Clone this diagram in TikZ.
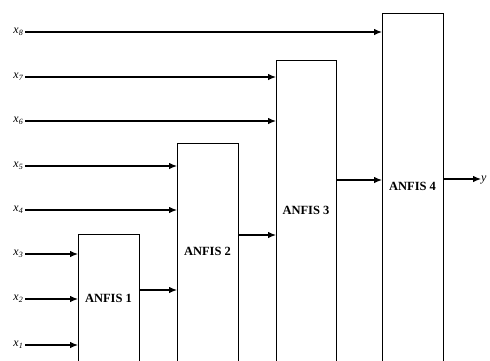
\documentclass[tikz,border=0pt]{standalone}
\usepackage{fontspec}
\setmainfont{Liberation Serif}
\usetikzlibrary{arrows.meta}
\begin{document}
\begin{tikzpicture}[x=1pt,y=-1pt,
  blk/.style={draw, line width=0.9pt, anchor=north west, inner sep=0pt, minimum width=61pt},
  arr/.style={-{Latex[length=8pt,width=6.5pt]}, line width=1.1pt},
  inlab/.style={anchor=base east, inner sep=0pt, font=\fontsize{12}{13}\selectfont\itshape},
  blab/.style={font=\fontsize{12.5}{14}\selectfont\bfseries, inner sep=0pt}]
\useasboundingbox (0,0) rectangle (490,360);
\clip (0,0) rectangle (490,360);
% blocks
\node[blk, minimum height=150pt] (a1) at (78,234) {};
\node[blk, minimum height=240pt] (a2) at (177,143) {};
\node[blk, minimum height=320pt, minimum width=60pt] (a3) at (276,60) {};
\node[blk, minimum height=370pt] (a4) at (382,13) {};
\node[blab] (l1) at (108.5,298) {ANFIS 1};
\node[blab] (l2) at (207.5,251) {ANFIS 2};
\node[blab] (l3) at (306,210) {ANFIS 3};
\node[blab] (l4) at (412.5,186) {ANFIS 4};
% input labels and start points
\foreach \i/\yy in {8/32,7/77,6/121,5/166,4/210,3/254,2/299,1/345}{
  \node[inlab] (x\i) at (23.5,\yy+1.5) {x\textsubscript{\i}};
  \coordinate (s\i) at (25,\yy);
}
% inputs
\draw[arr] (s8) -- (s8 -| a4.west);
\draw[arr] (s7) -- (s7 -| a3.west);
\draw[arr] (s6) -- (s6 -| a3.west);
\draw[arr] (s5) -- (s5 -| a2.west);
\draw[arr] (s4) -- (s4 -| a2.west);
\draw[arr] (s3) -- (s3 -| a1.west);
\draw[arr] (s2) -- (s2 -| a1.west);
\draw[arr] (s1) -- (s1 -| a1.west);
% inter-block connections
\coordinate (o1) at (139,290);
\coordinate (o2) at (238,235);
\coordinate (o3) at (336,180);
\draw[arr] (o1 -| a1.east) -- (o1 -| a2.west);
\draw[arr] (o2 -| a2.east) -- (o2 -| a3.west);
\draw[arr] (o3 -| a3.east) -- (o3 -| a4.west);
% output
\node[inlab, anchor=base west] (y) at (481,181) {y};
\coordinate (o4) at (443,179);
\draw[arr] (o4 -| a4.east) -- (o4 -| y.west);
\end{tikzpicture}
\end{document}
